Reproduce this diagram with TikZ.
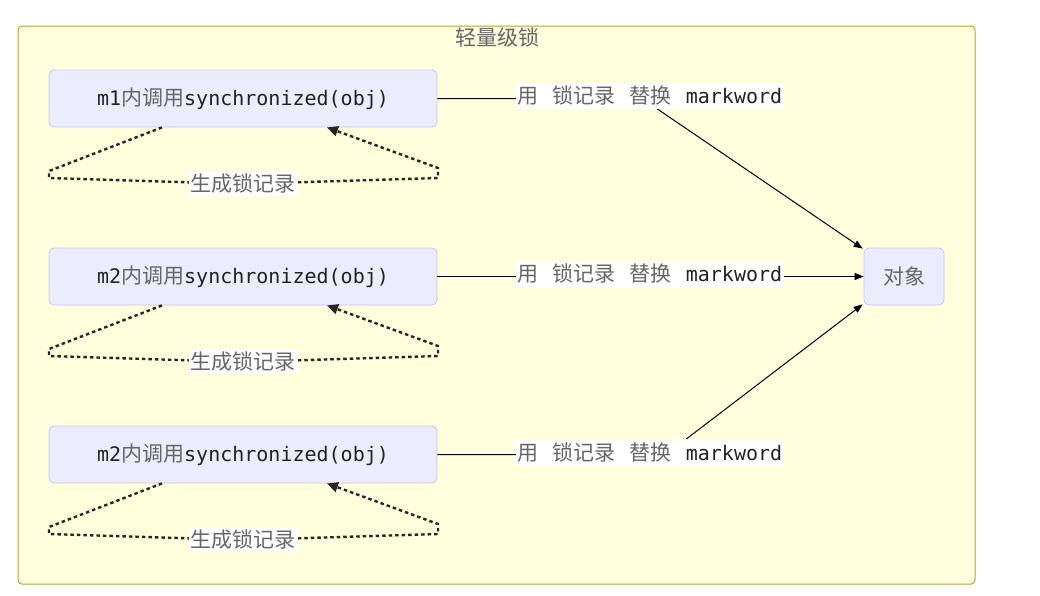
\documentclass[tikz,border=0pt]{standalone}
\usepackage{fontspec}
\newfontfamily\cjk{Noto Sans CJK SC}
\newfontfamily\mono{DejaVu Sans Mono}
\usetikzlibrary{arrows.meta}
\definecolor{clfill}{HTML}{FFFFDE}
\definecolor{clline}{HTML}{AAAA33}
\definecolor{nodefill}{HTML}{ECECFF}
\definecolor{nodeline}{HTML}{C8C2EE}
\definecolor{txt}{HTML}{222222}
\definecolor{cjkgray}{HTML}{666666}
\newcommand{\zh}[1]{{\cjk\fontsize{21}{23}\selectfont\color{cjkgray}#1}}
\newcommand{\en}[1]{{\mono\fontsize{20}{23}\selectfont\color{txt}#1}}
\begin{document}
\begin{tikzpicture}[x=1pt,y=-1pt,
  proc/.style={draw=nodeline, fill=nodefill, rounded corners=5pt, minimum width=388pt, minimum height=57pt, inner sep=0pt, line width=0.8pt},
  elabel/.style={fill=white, inner xsep=2pt, inner ysep=3pt},
  edge/.style={line width=1pt, draw=black, -{Triangle[length=9pt,width=7pt]}},
  dotloop/.style={line width=2.4pt, draw=black!85, dash pattern=on 3.5pt off 3pt, -{Triangle[length=11pt,width=10pt]}}
]
\useasboundingbox (0,0) rectangle (1040,595);
\fill[white] (0,0) rectangle (1040,595);
\draw[clline, fill=clfill, rounded corners=4pt, line width=1pt] (18,26) rectangle (975,584);
\node (title) at (497,37) {\zh{轻量级锁}};

\node[proc] (m1) at (243,98.5) {\en{m1}\zh{内调用}\en{synchronized(obj)}};
\node[proc] (m2) at (243,276.5) {\en{m2}\zh{内调用}\en{synchronized(obj)}};
\node[proc] (m3) at (243,454.5) {\en{m2}\zh{内调用}\en{synchronized(obj)}};
\node[proc, minimum width=80pt] (obj) at (904,276.5) {\zh{对象}};

\draw[edge] (m1.east) -- (642,98.5) -- ([shift={(-1pt,-1pt)}]obj.north west);
\draw[edge] (m2.east) -- (obj.west);
\draw[edge] (m3.east) -- (666,454.5) -- ([shift={(-1pt,1pt)}]obj.south west);

\node[elabel] (l1) at (650,96) {\zh{用}\hspace{14pt}\zh{锁记录}\hspace{14pt}\zh{替换}\hspace{14pt}\en{markword}};
\node[elabel] (l2) at (650,274) {\zh{用}\hspace{14pt}\zh{锁记录}\hspace{14pt}\zh{替换}\hspace{14pt}\en{markword}};
\node[elabel] (l3) at (650,452) {\zh{用}\hspace{14pt}\zh{锁记录}\hspace{14pt}\zh{替换}\hspace{14pt}\en{markword}};

\foreach \n/\dy in {m1/0, m2/178, m3/356}{
  \draw[dotloop] ([xshift=-81pt]\n.south) -- (49,171+\dy) -- (49,178+\dy) -- (243,184+\dy) -- (438,178+\dy) -- (438,168+\dy) -- ([xshift=84pt]\n.south);
  \node[elabel, inner ysep=2pt] (g\n) at (243,184+\dy) {\zh{生成锁记录}};
}
\end{tikzpicture}
\end{document}
